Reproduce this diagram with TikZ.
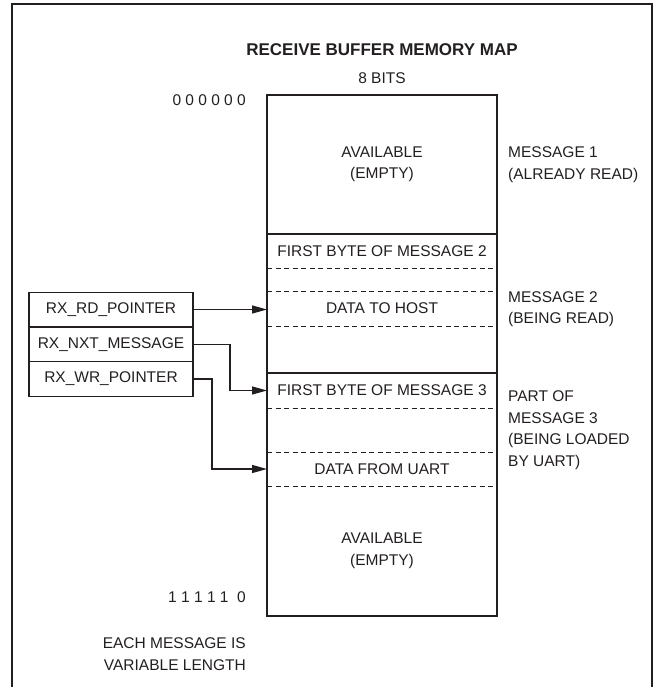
\documentclass[tikz,border=0pt]{standalone}
\usepackage{fontspec}
\setmainfont{Liberation Sans}
\usetikzlibrary{positioning,arrows.meta}
\definecolor{ink}{RGB}{35,31,32}
\tikzset{
  cell/.style={minimum width=230pt,inner sep=0pt,outer sep=0pt,align=center},
  ptrbox/.style={draw,line width=1.3pt,minimum width=164pt,minimum height=34.7pt,inner sep=0pt,outer sep=0pt},
  ptr/.style={line width=1.3pt,-{Triangle[length=15pt,width=8pt]}},
  side/.style={anchor=west,align=left,inner sep=0pt},
  addr/.style={anchor=east,align=right,inner sep=0pt},
}
\begin{document}
\begin{tikzpicture}[x=1pt,y=1pt,color=ink,font=\fontsize{15.5}{21.5}\selectfont]
  \useasboundingbox (0,0) rectangle (654,-687);
  \draw[line width=2pt] (12,-687) -- (12,-4) -- (652,-4) -- (652,-687);
  \node[font=\fontsize{17}{20}\selectfont\bfseries] (title) at (382,-50) {RECEIVE BUFFER MEMORY MAP};
  \node (bits) at (382,-78) {8 BITS};

  \node[cell,minimum height=139pt] (msgone) at (382,-164.5) {AVAILABLE\\(EMPTY)};
  \node[cell,minimum height=34pt,below=0pt of msgone] (firsttwo) {FIRST BYTE OF MESSAGE 2};
  \node[cell,minimum height=23pt,below=0pt of firsttwo] (gaptwo) {};
  \node[cell,minimum height=35pt,below=0pt of gaptwo] (hostdata) {DATA TO HOST};
  \node[cell,minimum height=47pt,below=0pt of hostdata] (resttwo) {};
  \node[cell,minimum height=35pt,below=0pt of resttwo] (firstthree) {FIRST BYTE OF MESSAGE 3};
  \node[cell,minimum height=44pt,below=0pt of firstthree] (gapthree) {};
  \node[cell,minimum height=34pt,below=0pt of gapthree] (uartdata) {DATA FROM UART};
  \node[cell,minimum height=130pt,below=0pt of uartdata] (freespace) {AVAILABLE\\(EMPTY)};

  \draw[line width=2.5pt] (msgone.north west) rectangle (freespace.south east);
  \foreach \c in {msgone,resttwo}
    \draw[line width=2.5pt] (\c.south west) -- (\c.south east);
  \foreach \c in {firsttwo,gaptwo,hostdata,firstthree,gapthree,uartdata}
    \draw[line width=0.9pt,dash pattern=on 5pt off 3.5pt] (\c.south west) -- (\c.south east);

  \node[addr] (topaddr) at (246,-100) {0 0 0 0 0 0};
  \node[addr] (endaddr) at (246,-597) {1 1 1 1 1\ \ 0};
  \node[addr] (note) at (246,-654) {EACH MESSAGE IS\\VARIABLE LENGTH};

  \node[side] (msgonelbl) at (508,-164.5) {MESSAGE 1\\(ALREADY READ)};
  \node[side] (msgtwolbl) at (508,-309) {MESSAGE 2\\(BEING READ)};
  \node[side] (msgthreelbl) at (508,-430) {PART OF\\MESSAGE 3\\(BEING LOADED\\BY UART)};

  \node[ptrbox] (rdptr) at (111,-309.5) {RX\_RD\_POINTER};
  \node[ptrbox,below=0pt of rdptr] (nxtptr) {RX\_NXT\_MESSAGE};
  \node[ptrbox,below=0pt of nxtptr] (wrptr) {RX\_WR\_POINTER};

  \draw[ptr] (rdptr.east) -- (rdptr.east -| hostdata.west);
  \draw[ptr] (nxtptr.east) -- ++(37,0) |- (firstthree.west);
  \draw[ptr] (wrptr.east) -- ++(19,0) |- (uartdata.west);
\end{tikzpicture}
\end{document}
